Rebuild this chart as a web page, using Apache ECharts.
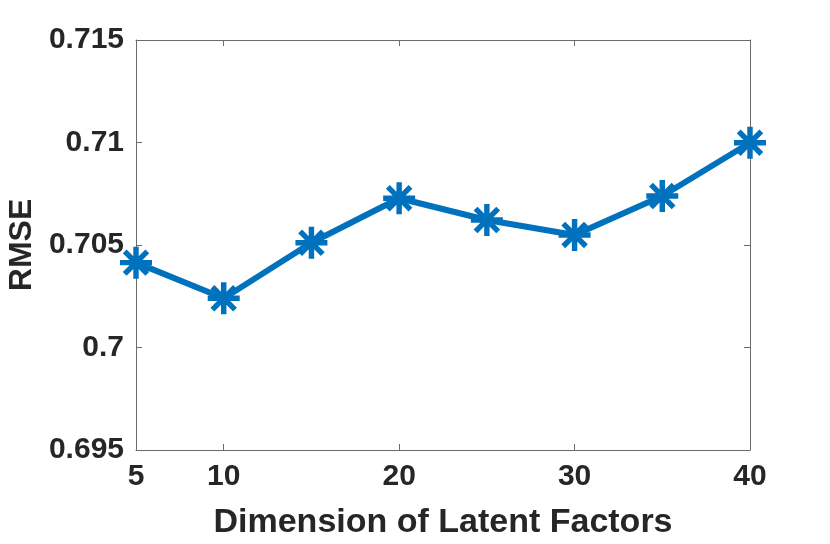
<!DOCTYPE html>
<html>
<head>
<meta charset="utf-8">
<script src="https://cdn.jsdelivr.net/npm/echarts@6/dist/echarts.min.js"></script>
<style>
html,body{margin:0;padding:0;background:#fff;}
#c{width:830px;height:544px;}
</style>
</head>
<body>
<div id="c"></div>
<script>
const dims = [5, 10, 15, 20, 25, 30, 35, 40];
const rmse = [0.70414, 0.7024, 0.70511, 0.70728, 0.70622, 0.70549, 0.70739, 0.70999];
const xTicks = [5, 10, 20, 30, 40];
const yTicks = [0.695, 0.7, 0.705, 0.71, 0.715];

const asterisk = 'path://M-1.7,-10L1.7,-10L1.7,10L-1.7,10Z' +
  'M-10,-1.7L10,-1.7L10,1.7L-10,1.7Z' +
  'M-5.87,-8.27L8.27,5.87L5.87,8.27L-8.27,-5.87Z' +
  'M8.27,-5.87L-5.87,8.27L-8.27,5.87L5.87,-8.27Z';

const FONT = '"Liberation Sans", Arial, Helvetica, sans-serif';
const TXT = '#262626';
const AX = '#6b6b6b';

const chart = echarts.init(document.getElementById('c'), null, {renderer: 'canvas'});
const fmtY = v => String(parseFloat(Number(v).toFixed(3)));

chart.setOption({
  animation: false,
  backgroundColor: '#fff',
  grid: {left: 136, right: 80, top: 40, bottom: 94, containLabel: false, outerBoundsMode: 'none'},
  xAxis: [{
    type: 'value', min: 5, max: 40,
    name: 'Dimension of Latent Factors', nameLocation: 'middle', nameGap: 56,
    nameTextStyle: {fontFamily: FONT, fontWeight: 'bold', fontSize: 34, color: TXT},
    axisLine: {show: true, lineStyle: {color: AX, width: 1}},
    axisTick: {show: true, inside: true, length: 6, customValues: xTicks, lineStyle: {color: AX}},
    axisLabel: {customValues: xTicks, margin: 12, fontFamily: FONT, fontWeight: 'bold', fontSize: 30, color: TXT},
    splitLine: {show: false}
  }, {
    type: 'value', min: 5, max: 40, position: 'top',
    axisLine: {show: true, lineStyle: {color: AX, width: 1}},
    axisTick: {show: true, inside: true, length: 6, customValues: xTicks, lineStyle: {color: AX}},
    axisLabel: {show: false},
    splitLine: {show: false}
  }],
  yAxis: [{
    type: 'value', min: 0.695, max: 0.715,
    name: 'RMSE', nameLocation: 'middle', nameGap: 96, nameRotate: 90,
    nameTextStyle: {fontFamily: FONT, fontWeight: 'bold', fontSize: 32, color: TXT},
    axisLine: {show: true, lineStyle: {color: AX, width: 1}},
    axisTick: {show: true, inside: true, length: 6, customValues: yTicks, lineStyle: {color: AX}},
    axisLabel: {customValues: yTicks, formatter: fmtY, margin: 12, fontFamily: FONT, fontWeight: 'bold', fontSize: 30, color: TXT},
    splitLine: {show: false}
  }, {
    type: 'value', min: 0.695, max: 0.715, position: 'right',
    axisLine: {show: true, lineStyle: {color: AX, width: 1}},
    axisTick: {show: true, inside: true, length: 6, customValues: yTicks, lineStyle: {color: AX}},
    axisLabel: {show: false},
    splitLine: {show: false}
  }],
  series: [{
    type: 'line',
    data: dims.map((d, i) => [d, rmse[i]]),
    lineStyle: {color: '#0072BD', width: 6},
    itemStyle: {color: '#0072BD'},
    symbol: asterisk,
    symbolSize: 32,
    showAllSymbol: true,
    clip: false
  }]
});
</script>
</body>
</html>
